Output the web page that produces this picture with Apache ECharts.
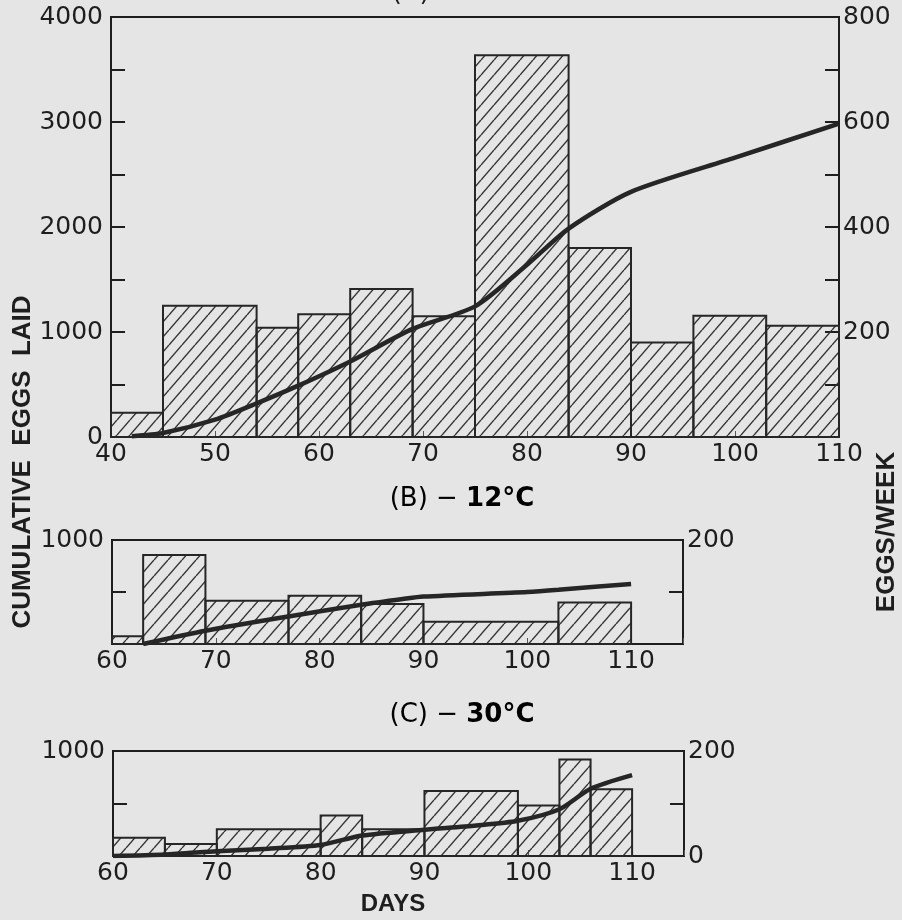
<!DOCTYPE html>
<html>
<head>
<meta charset="utf-8">
<script src="https://cdn.jsdelivr.net/npm/echarts@6/dist/echarts.min.js"></script>
<style>
html,body{margin:0;padding:0;background:#e5e5e5;}
#chart{width:902px;height:920px;}
</style>
</head>
<body>
<div id="chart"></div>
<script>
// ---------- DATA ----------
// Panel A
const edgesA = [40, 45, 54, 58, 63, 69, 75, 84, 90, 96, 103, 110];
const weeklyA = [46, 250, 208, 234, 282, 230, 727, 360, 180, 231, 212];
const cumDaysA = [42, 45, 50, 54, 58, 63, 69, 75, 80, 84, 90, 100, 110];
const cumA = [8, 38, 165, 320, 489, 720, 1030, 1244, 1640, 1985, 2335, 2660, 2985];
// Panel B (12°C)
const edgesB = [60, 63, 69, 77, 84, 90, 103, 110];
const weeklyB = [15, 171, 83, 93, 77, 43, 80];
const cumDaysB = [63, 69, 77, 84, 88, 90, 100, 103, 110];
const cumB = [0, 128, 265, 377, 432, 456, 500, 521, 578];
// Panel C (30°C)
const edgesC = [60, 65, 70, 80, 84, 90, 99, 103, 106, 110];
const weeklyC = [35, 23, 51, 77, 51, 124, 96, 184, 127];
const cumDaysC = [60, 65, 70, 75, 80, 84, 90, 95, 99, 103, 106, 110];
const cumC = [0, 15, 45, 70, 105, 195, 250, 290, 335, 445, 640, 770];
// Tick labels
const xLabelsA = [40, 50, 60, 70, 80, 90, 100, 110];
const xLabelsBC = [60, 70, 80, 90, 100, 110];
const leftLabelsA = [0, 1000, 2000, 3000, 4000];
const rightLabelsA = [200, 400, 600, 800];
const leftLabelsBC = [1000];
const rightLabelsB = [200];
const rightLabelsC = [0, 200];
// Texts
const titleA = '(A) − 20°C';
const yNameLeft = 'CUMULATIVE  EGGS  LAID';
const yNameRight = 'EGGS/WEEK';
const xName = 'DAYS';

// ---------- helpers ----------
function makeHatch(w, h) {
  const c = document.createElement('canvas');
  c.width = w; c.height = h;
  const ctx = c.getContext('2d');
  ctx.strokeStyle = '#333333';
  ctx.lineWidth = 1.4;
  for (const dx of [-w, 0, w]) {
    ctx.beginPath();
    ctx.moveTo(dx, h);
    ctx.lineTo(dx + w, 0);
    ctx.stroke();
  }
  return c;
}
const hatchA = { image: makeHatch(13, 15), repeat: 'repeat' };
const hatchBC = { image: makeHatch(14, 16), repeat: 'repeat' };

function histData(edges, vals) {
  return vals.map((v, i) => [edges[i], edges[i + 1], v]);
}
function pairs(xs, ys) { return xs.map((x, i) => [x, ys[i]]); }

function histRender(pattern) {
  return function (params, api) {
    const x0 = api.value(0), x1 = api.value(1), v = api.value(2);
    const p0 = api.coord([x0, v]);
    const p1 = api.coord([x1, 0]);
    return {
      type: 'rect',
      shape: { x: p0[0], y: p0[1], width: p1[0] - p0[0], height: p1[1] - p0[1] },
      style: { fill: pattern, stroke: '#262626', lineWidth: 2 }
    };
  };
}

const ink = '#1e1e1e';
const numFont = { fontFamily: 'DejaVu Sans', fontSize: 25, color: ink };

function xAxisDef(gi, min, max, labels) {
  return {
    gridIndex: gi, type: 'value', min: min, max: max, interval: 10,
    axisLine: { show: true, onZero: false, lineStyle: { color: ink, width: 2 } },
    axisTick: { show: true, inside: true, length: 6, lineStyle: { color: '#555', width: 1 } },
    splitLine: { show: false },
    axisLabel: Object.assign({ margin: 5, formatter: v => labels.includes(v) ? String(v) : '' }, numFont)
  };
}
function yAxisDef(gi, pos, max, interval, labels) {
  return {
    gridIndex: gi, type: 'value', position: pos, min: 0, max: max, interval: interval,
    axisLine: { show: true, lineStyle: { color: ink, width: 2 } },
    axisTick: { show: true, inside: true, length: 14, lineStyle: { color: ink, width: 2 } },
    splitLine: { show: false },
    axisLabel: Object.assign({ margin: pos === 'left' ? 8 : 4, formatter: v => labels.includes(v) ? String(v) : '' }, numFont)
  };
}

const lineStyle = { color: '#262626', width: 4.5 };
function cumLine(xi, yi, xs, ys) {
  return { type: 'line', xAxisIndex: xi, yAxisIndex: yi, data: pairs(xs, ys), smooth: 0.25, showSymbol: false, symbol: 'none', lineStyle: lineStyle, z: 3 };
}

const option = {
  backgroundColor: '#e5e5e5',
  animation: false,
  grid: [
    { left: 111, top: 17, width: 728, height: 420, show: true, borderColor: ink, borderWidth: 2, backgroundColor: 'transparent' },
    { left: 112, top: 540, width: 571, height: 104, show: true, borderColor: ink, borderWidth: 2, backgroundColor: 'transparent' },
    { left: 113, top: 751, width: 571, height: 105, show: true, borderColor: ink, borderWidth: 2, backgroundColor: 'transparent' }
  ],
  xAxis: [
    xAxisDef(0, 40, 110, xLabelsA),
    xAxisDef(1, 60, 115, xLabelsBC),
    xAxisDef(2, 60, 115, xLabelsBC)
  ],
  yAxis: [
    yAxisDef(0, 'left', 4000, 500, leftLabelsA),
    yAxisDef(0, 'right', 800, 100, rightLabelsA),
    yAxisDef(1, 'left', 1000, 500, leftLabelsBC),
    yAxisDef(1, 'right', 200, 100, rightLabelsB),
    yAxisDef(2, 'left', 1000, 500, leftLabelsBC),
    yAxisDef(2, 'right', 200, 100, rightLabelsC)
  ],
  series: [
    { type: 'custom', xAxisIndex: 0, yAxisIndex: 1, renderItem: histRender(hatchA), encode: { x: [0, 1], y: 2 }, data: histData(edgesA, weeklyA), z: 2 },
    cumLine(0, 0, cumDaysA, cumA),
    { type: 'custom', xAxisIndex: 1, yAxisIndex: 3, renderItem: histRender(hatchBC), encode: { x: [0, 1], y: 2 }, data: histData(edgesB, weeklyB), z: 2 },
    cumLine(1, 2, cumDaysB, cumB),
    { type: 'custom', xAxisIndex: 2, yAxisIndex: 5, renderItem: histRender(hatchBC), encode: { x: [0, 1], y: 2 }, data: histData(edgesC, weeklyC), z: 2 },
    cumLine(2, 4, cumDaysC, cumC)
  ],
  graphic: [
    { type: 'text', x: 462, y: -7, style: { text: titleA, align: 'center', verticalAlign: 'middle', font: '26px "DejaVu Sans"', fill: ink } },
    { type: 'text', x: 462, y: 499, style: { text: '{n|(B) − }{b|12°C}', align: 'center', verticalAlign: 'middle', rich: { n: { fontFamily: 'DejaVu Sans', fontSize: 26, color: ink }, b: { fontFamily: 'DejaVu Sans', fontWeight: 'bold', fontSize: 26, color: ink } } } },
    { type: 'text', x: 462, y: 715, style: { text: '{n|(C) − }{b|30°C}', align: 'center', verticalAlign: 'middle', rich: { n: { fontFamily: 'DejaVu Sans', fontSize: 26, color: ink }, b: { fontFamily: 'DejaVu Sans', fontWeight: 'bold', fontSize: 26, color: ink } } } },
    { type: 'text', x: 23, y: 462, rotation: Math.PI / 2, style: { text: yNameLeft, align: 'center', verticalAlign: 'middle', font: 'bold 26px "Liberation Sans"', fill: ink } },
    { type: 'text', x: 887, y: 532, rotation: Math.PI / 2, style: { text: yNameRight, align: 'center', verticalAlign: 'middle', font: 'bold 26px "Liberation Sans"', fill: ink } },
    { type: 'text', x: 393, y: 904, style: { text: xName, align: 'center', verticalAlign: 'middle', font: 'bold 24px "Liberation Sans"', fill: ink } }
  ]
};

const chart = echarts.init(document.getElementById('chart'), null, { renderer: 'canvas' });
chart.setOption(option);
</script>
</body>
</html>
